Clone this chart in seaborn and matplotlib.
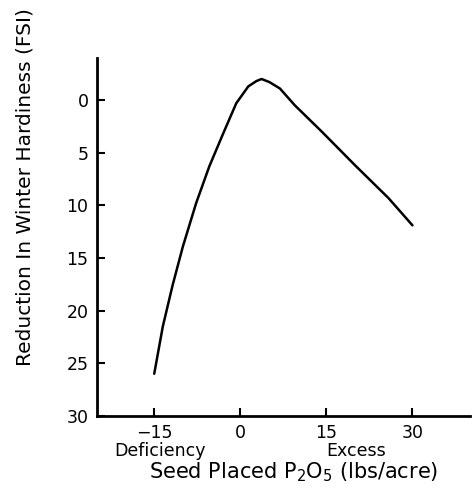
import pandas as pd
import matplotlib.pyplot as plt
import seaborn as sns

sns.set_style("ticks")
plt.rcParams['font.family'] = ['DejaVu Sans']
plt.rcParams['text.color'] = 'black'
plt.rcParams['axes.labelcolor'] = 'black'
plt.rcParams['xtick.color'] = 'black'
plt.rcParams['ytick.color'] = 'black'
plt.rcParams['axes.edgecolor'] = 'black'

# values
p2o5 = [-15, -13.5, -11.8, -10.0, -7.7, -5.4, -3.0, -0.7,
        1.4, 2.8, 3.7, 5.1, 6.9, 9.5, 14.2, 20.0, 25.8, 30]
fsi_loss = [26.0, 21.5, 17.6, 13.9, 9.8, 6.3, 3.2, 0.3,
            -1.3, -1.8, -2.0, -1.7, -1.1, 0.5, 3.0, 6.2, 9.3, 11.9]

x_ticks = [-15, 0, 15, 30]
y_ticks = [0, 5, 10, 15, 20, 25, 30]

df = pd.DataFrame({"p2o5": p2o5, "fsi": fsi_loss})

fig = plt.figure(figsize=(4.77, 4.91), dpi=100)
ax = fig.add_axes([0.203, 0.153, 0.782, 0.729])

sns.lineplot(data=df, x="p2o5", y="fsi", ax=ax, color="black", linewidth=1.8, sort=False)

ax.set_xlim(-25, 40)
ax.set_ylim(30, -4)
ax.set_xticks(x_ticks)
ax.set_yticks(y_ticks)
ax.set_xticklabels(["\u221215", "0", "15", "30"])
sns.despine(ax=ax)
for side in ["left", "bottom"]:
    ax.spines[side].set_linewidth(2)
ax.tick_params(direction="in", length=6, width=1.5, labelsize=12.5, pad=6)

ax.set_xlabel("Seed Placed P$_2$O$_5$ (lbs/acre)", fontsize=15)
ax.xaxis.set_label_coords(0.528, -0.158)
ax.xaxis.label.set_va("center")
ax.set_ylabel("Reduction In Winter Hardiness (FSI)", fontsize=14.5)
ax.yaxis.set_label_coords(-0.193, 0.64)
ax.yaxis.label.set_va("center")

trans = ax.get_xaxis_transform()
ax.text(-14, -0.097, "Deficiency", transform=trans, ha="center", va="center", fontsize=12.5)
ax.text(15, -0.097, "Excess", transform=trans, ha="left", va="center", fontsize=12.5)

plt.savefig("out.png", dpi=100)
